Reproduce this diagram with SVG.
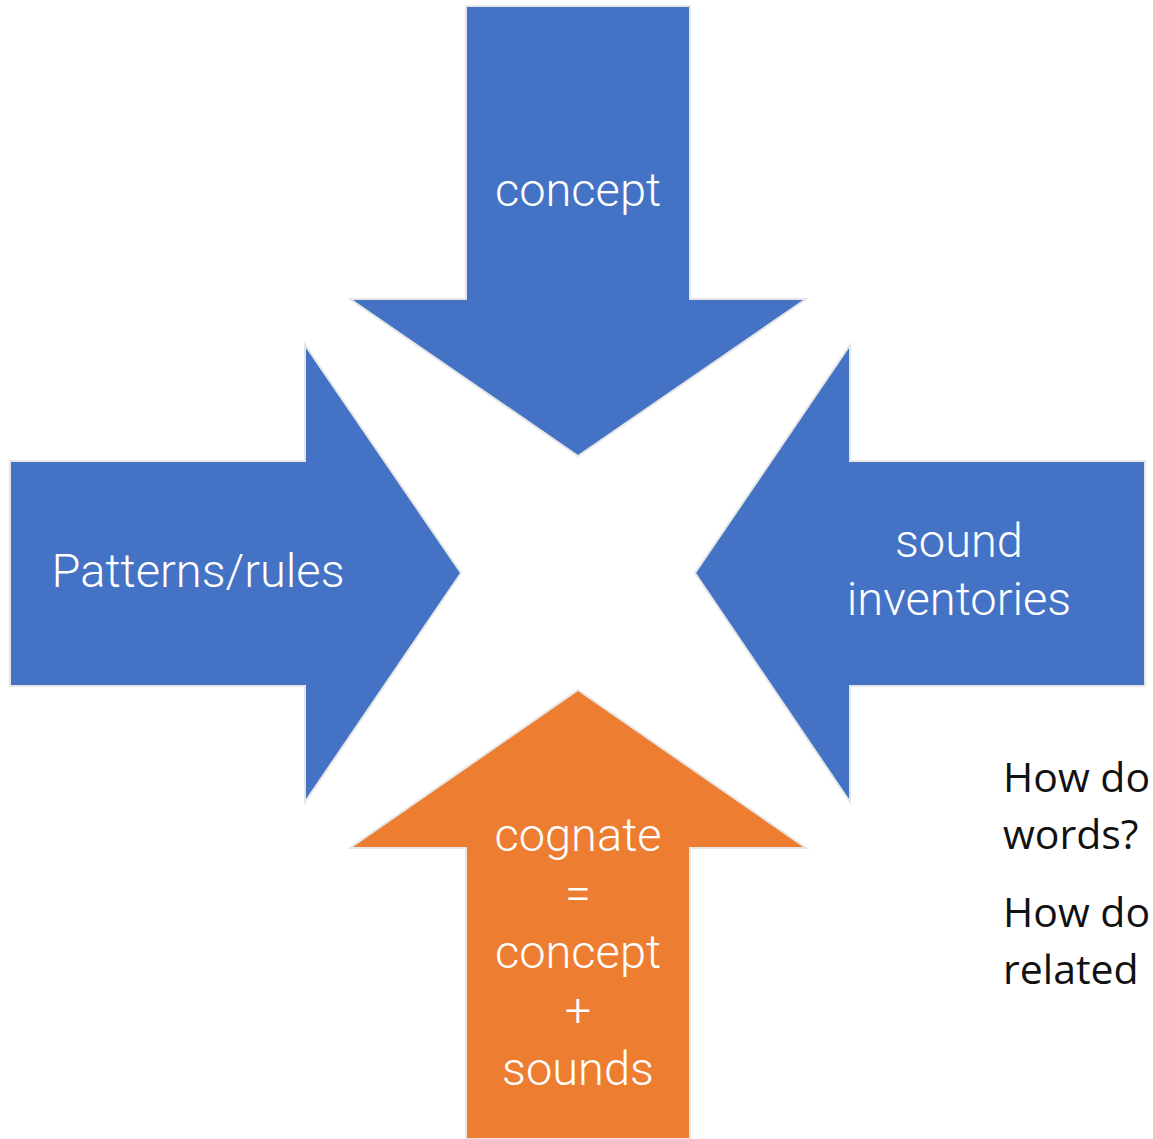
<svg xmlns="http://www.w3.org/2000/svg" width="1153" height="1139" viewBox="0 0 1153 1139">
  <style>
    .arrow { stroke: #e6e6e6; stroke-width: 2; stroke-linejoin: miter; }
    .blue { fill: #4472C4; }
    .orange { fill: #ED7D31; }
    .lbl { font-family: Roboto, "Noto Sans", sans-serif; font-weight: 300; font-size: 47px; fill: #ffffff; text-anchor: middle; }
    .q { font-family: "Open Sans", "Noto Sans", sans-serif; font-size: 41px; fill: #111111; }
  </style>
  <rect width="1153" height="1139" fill="#ffffff"/>

  <g id="arrow-top">
    <polygon class="arrow blue" points="466,6 690,6 690,299 806,299 578,456 350,299 466,299"/>
    <text class="lbl" x="578" y="206">concept</text>
  </g>

  <g id="arrow-left">
    <polygon class="arrow blue" points="10,461 305,461 305,345 461,573 305,802 305,686 10,686"/>
    <text class="lbl" x="198" y="587">Patterns/rules</text>
  </g>

  <g id="arrow-right">
    <polygon class="arrow blue" points="1145,461 850,461 850,345 695,573 850,802 850,686 1145,686"/>
    <text class="lbl" x="959" y="557">sound</text>
    <text class="lbl" x="959" y="615">inventories</text>
  </g>

  <g id="arrow-bottom">
    <polygon class="arrow orange" points="466,1139 690,1139 690,848 806,848 578,690 350,848 466,848"/>
    <text class="lbl" x="578" y="851">cognate</text>
    <text class="lbl" x="578" y="909">=</text>
    <text class="lbl" x="578" y="968">concept</text>
    <text class="lbl" x="578" y="1026">+</text>
    <text class="lbl" x="578" y="1085">sounds</text>
  </g>

  <g id="questions">
    <text class="q" x="1003" y="792">How do</text>
    <text class="q" x="1003" y="849">words?</text>
    <text class="q" x="1003" y="927">How do</text>
    <text class="q" x="1003" y="984">related</text>
  </g>
</svg>
